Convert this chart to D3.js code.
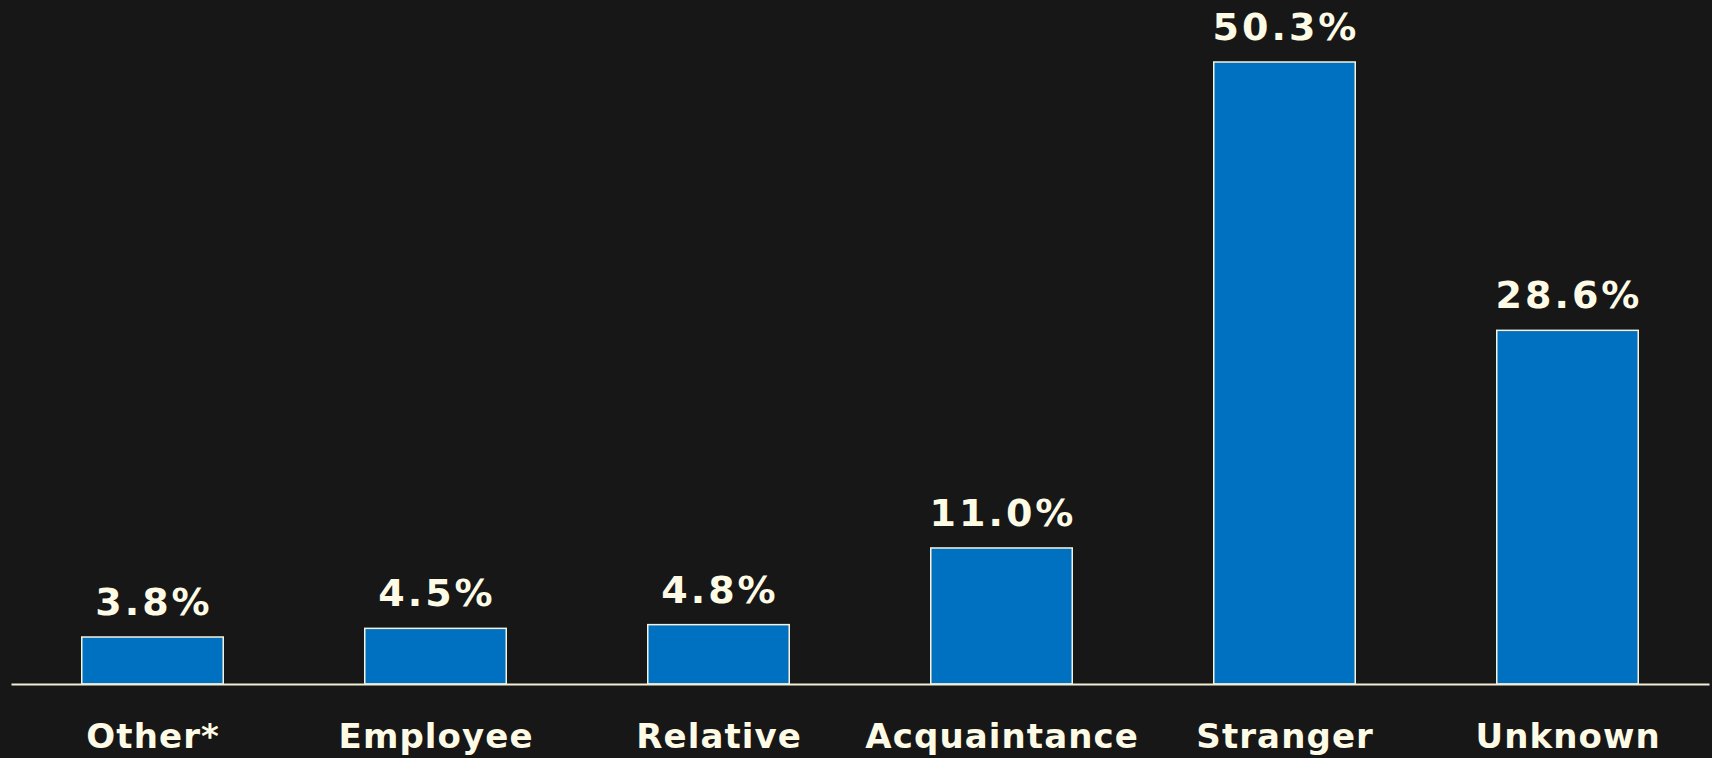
<!DOCTYPE html>
<html>
<head>
<meta charset="utf-8">
<script src="https://cdn.jsdelivr.net/npm/d3@7"></script>
<style>
  html, body { margin: 0; padding: 0; background: #171717; }
  svg { display: block; }
</style>
</head>
<body>
<script>
// Relationship of offender to victim (share of incidents, %)
const categories = ["Other*", "Employee", "Relative", "Acquaintance", "Stranger", "Unknown"];
const values = [3.8, 4.5, 4.8, 11.0, 50.3, 28.6];
const valueLabels = ["3.8%", "4.5%", "4.8%", "11.0%", "50.3%", "28.6%"];

const W = 1712, H = 758;
const baseY = 684, topY = 62;
const textColor = "#fdfbe6";

const svg = d3.select("body").append("svg")
  .attr("width", W).attr("height", H);

svg.append("rect").attr("width", W).attr("height", H).attr("fill", "#171717");

const x = d3.scaleBand()
  .domain(categories)
  .range([11, 1709])
  .paddingInner(0.5)
  .paddingOuter(0.25);

const y = d3.scaleLinear()
  .domain([0, d3.max(values)])
  .range([baseY, topY]);

const data = categories.map((c, i) => ({ c, v: values[i], label: valueLabels[i] }));

// bars
svg.append("g").selectAll("rect")
  .data(data)
  .join("rect")
  .attr("x", d => x(d.c))
  .attr("y", d => y(d.v))
  .attr("width", x.bandwidth())
  .attr("height", d => y(0) - y(d.v))
  .attr("fill", "#0070c0")
  .attr("stroke", "#f6f3dc")
  .attr("stroke-width", 1.5);

// baseline axis with category labels
const axis = d3.axisBottom(x).tickSize(0).tickPadding(0);
const gAxis = svg.append("g")
  .attr("transform", `translate(0,${baseY})`)
  .call(axis);
gAxis.select(".domain")
  .attr("stroke", "#f3efd6")
  .attr("stroke-width", 2);
gAxis.selectAll(".tick text")
  .attr("x", 0.6)
  .attr("y", 64)
  .attr("dy", null)
  .attr("fill", textColor)
  .attr("font-family", "'DejaVu Sans', sans-serif")
  .attr("font-weight", "bold")
  .attr("font-size", 34)
  .attr("letter-spacing", 1.1);

// value labels
svg.append("g").selectAll("text")
  .data(data)
  .join("text")
  .attr("x", d => x(d.c) + x.bandwidth() / 2 + 1.5)
  .attr("y", d => y(d.v) - 22)
  .attr("text-anchor", "middle")
  .attr("fill", textColor)
  .attr("font-family", "'DejaVu Sans', sans-serif")
  .attr("font-weight", "bold")
  .attr("font-size", 38)
  .attr("letter-spacing", 3)
  .text(d => d.label);
</script>
</body>
</html>
